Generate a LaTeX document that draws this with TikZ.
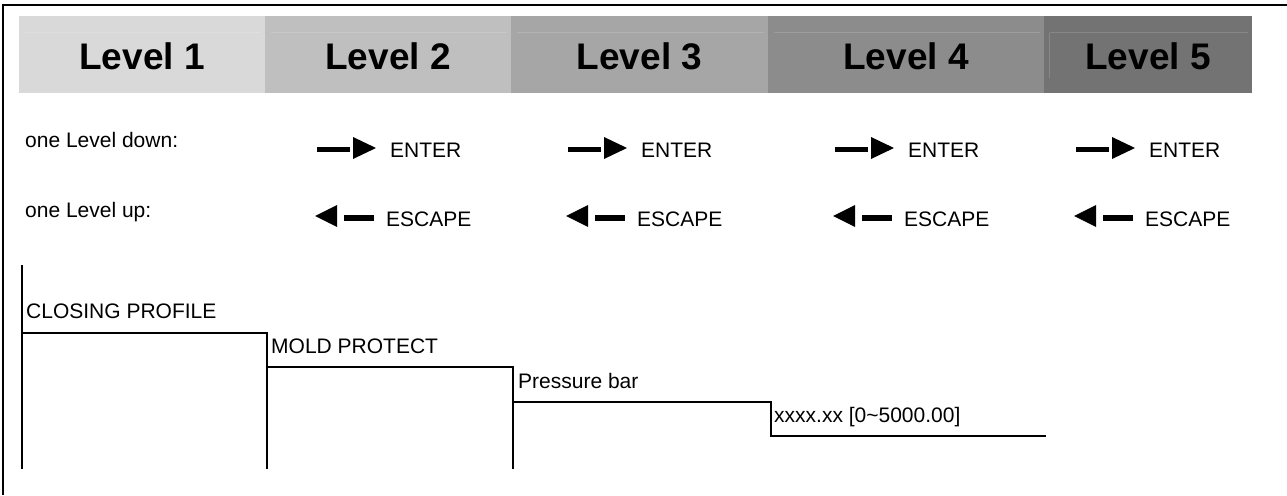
\documentclass[tikz,border=0pt]{standalone}
\usepackage{fontspec}
\setmainfont{Liberation Sans}
\begin{document}
\begin{tikzpicture}[x=1pt,y=-1pt,
  lvl/.style={font=\fontsize{37}{40}\selectfont\bfseries, inner sep=0pt, anchor=base},
  txt/.style={font=\fontsize{21}{24}\selectfont, inner sep=0pt, anchor=base west},
  stepline/.style={line width=2pt, line cap=rect},
  framel/.style={line width=2pt},
  hl/.style={white, opacity=0.15, line width=1pt}
]
\useasboundingbox (0,0) rectangle (1287,495);
\fill[white] (0,0) rectangle (1287,495);
% frame
\draw[framel] (3,495) -- (3,5) -- (1287,5);
% header cells
\foreach \a/\b/\c/\n in {19/265/217/1, 265/511/191/2, 511/768/166/3, 768/1044/140/4, 1044/1252/115/5}{
  \fill[fill={rgb,255:red,\c;green,\c;blue,\c}] (\a,16) rectangle (\b,93);
  \draw[hl] (\a+6,33) -- (\b-4,33);
  \node[lvl] (L\n) at ({(\a+\b)/2},70) {Level \n};
}
\draw[hl] (1049,33) -- (1049,78);
% row labels
\node[txt] (down) at (25,147) {one Level down:};
\node[txt] (up) at (25,217) {one Level up:};
% arrows
\foreach \x/\n in {317/2, 568/3, 835/4, 1076/5}{
  \fill (\x,146.5) rectangle (\x+33,152);
  \fill (\x+36,137) -- (\x+59,148) -- (\x+36,159) -- cycle;
  \node[txt] (enter\n) at (\x+73,157) {ENTER};
  \fill (\x-2,216) -- (\x+20,205) -- (\x+20,227) -- cycle;
  \fill (\x+27,215) rectangle (\x+57,220.5);
  \node[txt] (escape\n) at (\x+69,226) {ESCAPE};
}
% step diagram
\coordinate (a0) at (22,266);
\coordinate (a1) at (22,468);
\coordinate (b0) at (22,333);
\coordinate (b1) at (267,333);
\coordinate (b2) at (267,468);
\coordinate (c0) at (267,367);
\coordinate (c1) at (513,367);
\coordinate (c2) at (513,468);
\coordinate (d0) at (513,402);
\coordinate (d1) at (771,402);
\coordinate (d2) at (771,436);
\coordinate (d3) at (1045,436);
\draw[stepline] (a0) -- (a1);
\draw[stepline] (b0) -- (b1) -- (b2);
\draw[stepline] (c0) -- (c1) -- (c2);
\draw[stepline] (d0) -- (d1) -- (d2) -- (d3);
\node[txt] (t1) at (26,318) {CLOSING PROFILE};
\node[txt] (t2) at (271,353) {MOLD PROTECT};
\node[txt] (t3) at (518,388) {Pressure bar};
\node[txt] (t4) at (774,422) {xxxx.xx [0\textasciitilde 5000.00]};
\end{tikzpicture}
\end{document}
